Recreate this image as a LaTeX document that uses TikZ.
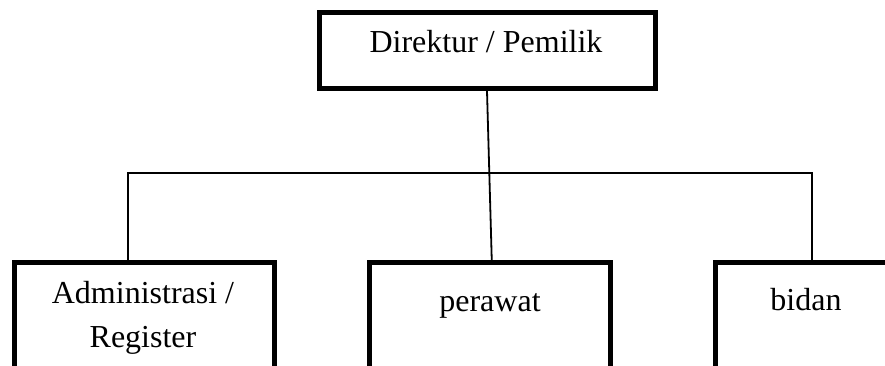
\documentclass[tikz,border=0pt]{standalone}
\usepackage{fontspec}
\setmainfont{Liberation Serif}
\begin{document}
\begin{tikzpicture}[x=1pt,y=-1pt,
  orgbox/.style={draw=black,line width=5pt,fill=white,inner sep=0pt,rectangle},
  link/.style={draw=black,line width=1.8pt},
  lbl/.style={font=\fontsize{32}{44}\selectfont,inner sep=0pt,anchor=base,align=center}]
\useasboundingbox (0,0) rectangle (885,366);
\clip (0,0) rectangle (885,366);
% boxes
\node[orgbox,minimum width=336pt,minimum height=75.5pt] (dir) at (487,50.75) {};
\node[orgbox,minimum width=259.5pt,minimum height=130pt] (adm) at (144.25,327.5) {};
\node[orgbox,minimum width=240.5pt,minimum height=130pt] (per) at (489.75,327.5) {};
\node[orgbox,minimum width=190pt,minimum height=130pt] (bid) at (810.5,327.5) {};
% labels (base anchor sits on the last line of a multi-line label)
\node[lbl] (dirtext) at (486,53) {Direktur / Pemilik};
\node[lbl] (admtext) at (143,347) {Administrasi /\\Register};
\node[lbl] (pertext) at (490,311.5) {perawat};
\node[lbl] (bidtext) at (806,310.5) {bidan};
% connectors
\coordinate (busl) at (128,173);
\coordinate (busr) at (812,173);
\draw[link] (dir.south) -- ([xshift=2pt]per.north);
\draw[link] (busl |- adm.north) -- (busl) -- (busr) -- (busr |- bid.north);
\end{tikzpicture}
\end{document}
